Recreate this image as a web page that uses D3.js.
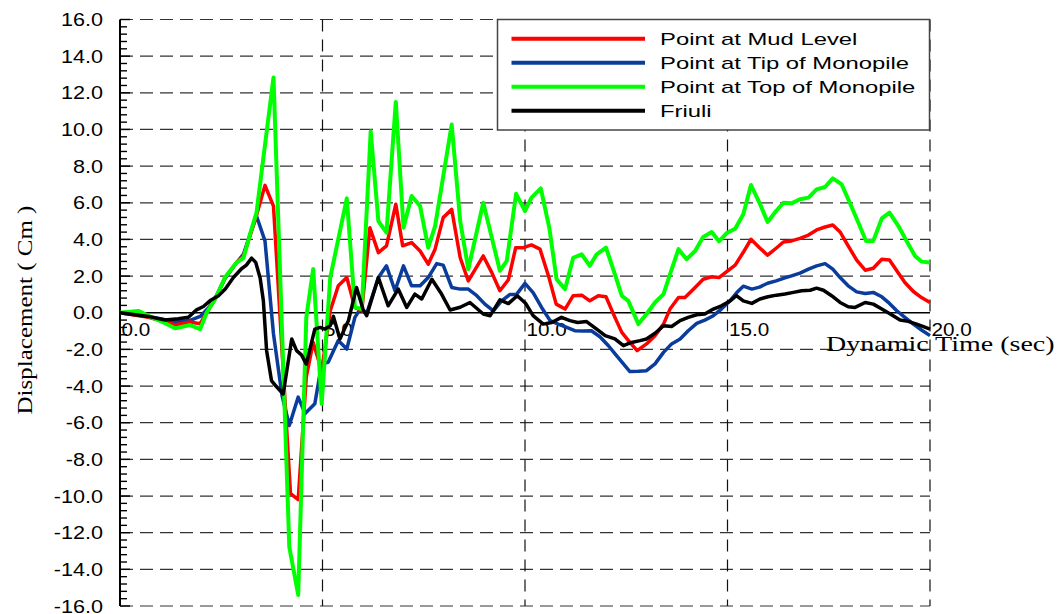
<!DOCTYPE html>
<html>
<head>
<meta charset="utf-8">
<script src="https://cdn.jsdelivr.net/npm/d3@7"></script>
<style>
  body { margin: 0; background: #fff; }
  svg { display: block; }
</style>
</head>
<body>
<svg id="chart" width="1059" height="614"></svg>
<script>
// [time (sec), displacement (cm)]
const mudLevel = [[0,0],[0.7,-0.25],[1.05,-0.45],[1.36,-0.67],[1.73,-0.5],[1.98,-0.6],[2.14,0.0],[2.35,0.75],[2.59,1.9],[2.88,2.74],[3.05,3.1],[3.37,5.3],[3.58,6.95],[3.79,5.82],[4.21,-9.87],[4.40,-10.2],[4.6,-3.5],[4.77,-1.62],[4.98,-3.16],[5.19,0.1],[5.39,1.47],[5.6,1.92],[5.8,0.29],[5.97,0.1],[6.17,4.64],[6.38,3.28],[6.58,3.65],[6.81,5.92],[6.98,3.65],[7.2,3.83],[7.41,3.37],[7.61,2.65],[7.78,3.47],[7.98,5.19],[8.19,5.64],[8.4,3.0],[8.6,1.74],[8.97,3.1],[9.18,2.19],[9.38,1.2],[9.59,1.8],[9.77,3.55],[9.96,3.55],[10.16,3.7],[10.37,3.47],[10.58,2.01],[10.77,0.47],[10.99,0.2],[11.19,0.93],[11.4,0.96],[11.6,0.65],[11.81,0.93],[12.0,0.87],[12.22,-0.25],[12.39,-1.07],[12.59,-1.62],[12.77,-2.07],[13.0,-1.7],[13.21,-1.25],[13.42,-0.62],[13.58,0.2],[13.79,0.83],[13.95,0.83],[14.2,1.38],[14.4,1.83],[14.61,1.96],[14.79,1.92],[14.98,2.25],[15.19,2.6],[15.39,3.3],[15.58,4.01],[15.79,3.55],[15.99,3.14],[16.2,3.52],[16.38,3.86],[16.58,3.92],[16.79,4.06],[17.0,4.24],[17.2,4.52],[17.41,4.68],[17.6,4.79],[17.78,4.41],[17.98,3.65],[18.19,2.87],[18.4,2.32],[18.6,2.43],[18.81,2.92],[19.0,2.88],[19.18,2.29],[19.38,1.65],[19.59,1.16],[19.79,0.83],[20.0,0.56]];

const tipMonopile = [[0,0],[0.7,-0.2],[1.05,-0.35],[1.36,-0.5],[1.73,-0.42],[1.98,-0.2],[2.2,0.3],[2.4,1.0],[2.59,1.85],[2.88,2.74],[3.05,3.2],[3.2,4.2],[3.37,5.28],[3.58,3.92],[3.79,-1.16],[4.0,-4.5],[4.18,-6.15],[4.40,-4.6],[4.57,-5.5],[4.81,-4.97],[4.98,-2.79],[5.14,-2.7],[5.39,-1.52],[5.6,-1.98],[5.8,-0.25],[5.93,0.2],[6.09,-0.05],[6.38,1.92],[6.58,2.56],[6.79,1.2],[7.0,2.56],[7.2,1.47],[7.41,1.47],[7.61,1.92],[7.82,2.68],[7.98,2.6],[8.19,1.38],[8.4,1.29],[8.6,1.29],[8.81,0.93],[9.01,0.47],[9.22,0.1],[9.42,0.65],[9.63,1.0],[9.79,1.0],[10.0,1.6],[10.2,1.1],[10.41,0.29],[10.62,-0.43],[10.82,-0.62],[11.03,-0.8],[11.23,-0.98],[11.44,-1.0],[11.64,-0.98],[11.85,-1.31],[12.06,-1.8],[12.26,-2.34],[12.43,-2.79],[12.59,-3.21],[12.8,-3.19],[13.0,-3.16],[13.21,-2.79],[13.42,-2.16],[13.62,-1.7],[13.83,-1.43],[14.03,-0.98],[14.24,-0.58],[14.44,-0.4],[14.65,-0.16],[14.85,0.2],[15.06,0.65],[15.23,1.1],[15.39,1.45],[15.6,1.29],[15.79,1.4],[15.99,1.61],[16.2,1.74],[16.38,1.88],[16.58,2.01],[16.79,2.16],[17.0,2.38],[17.2,2.56],[17.41,2.68],[17.6,2.38],[17.78,1.92],[17.98,1.47],[18.19,1.14],[18.4,1.05],[18.6,1.11],[18.81,0.87],[19.0,0.51],[19.18,0.11],[19.38,-0.25],[19.59,-0.62],[19.79,-0.94],[20.0,-1.25]];

const topMonopile = [[0,0],[0.45,0.1],[0.78,-0.25],[1.05,-0.5],[1.36,-0.85],[1.73,-0.67],[1.98,-0.89],[2.14,0.0],[2.35,0.75],[2.59,1.92],[2.88,2.74],[3.05,3.0],[3.2,4.2],[3.37,5.46],[3.79,12.84],[4.18,-12.77],[4.40,-15.4],[4.6,-0.25],[4.77,2.38],[4.98,-4.97],[5.19,1.9],[5.6,6.24],[5.8,0.3],[5.97,0.2],[6.19,9.9],[6.38,5.0],[6.58,4.37],[6.81,11.5],[7.0,4.64],[7.2,6.37],[7.41,5.82],[7.61,3.55],[7.78,4.73],[8.19,10.27],[8.4,5.0],[8.6,2.38],[8.97,6.0],[9.18,4.1],[9.38,2.29],[9.55,2.83],[9.78,6.49],[10.0,5.55],[10.16,6.28],[10.39,6.79],[10.6,4.64],[10.78,1.83],[10.99,1.29],[11.19,3.0],[11.4,3.19],[11.6,2.56],[11.77,3.19],[12.0,3.55],[12.22,2.1],[12.39,0.93],[12.55,0.65],[12.8,-0.62],[13.0,-0.07],[13.21,0.56],[13.42,1.02],[13.58,2.1],[13.79,3.47],[13.99,2.92],[14.2,3.37],[14.4,4.14],[14.61,4.4],[14.79,3.9],[14.98,4.35],[15.19,4.58],[15.39,5.37],[15.58,6.97],[15.79,6.0],[15.99,4.95],[16.2,5.55],[16.38,6.0],[16.58,5.97],[16.79,6.19],[17.0,6.28],[17.2,6.73],[17.41,6.86],[17.6,7.33],[17.82,7.0],[18.02,6.0],[18.23,4.92],[18.42,3.92],[18.6,3.92],[18.81,5.15],[19.0,5.46],[19.22,4.73],[19.42,3.92],[19.63,3.1],[19.79,2.79],[20.0,2.74]];

const friuli = [[0,0],[0.7,-0.2],[1.11,-0.4],[1.44,-0.33],[1.69,-0.25],[1.89,0.16],[2.06,0.34],[2.22,0.65],[2.43,0.93],[2.6,1.3],[2.8,1.92],[3.0,2.4],[3.12,2.6],[3.25,2.98],[3.35,2.75],[3.46,1.9],[3.54,0.65],[3.62,-2.07],[3.74,-3.7],[3.85,-4.0],[4.03,-4.43],[4.24,-1.43],[4.36,-2.07],[4.48,-2.3],[4.6,-2.8],[4.81,-0.89],[4.94,-0.8],[5.06,-0.89],[5.19,-0.71],[5.27,-0.2],[5.43,-1.43],[5.64,-0.43],[5.84,1.38],[6.0,0.2],[6.09,-0.16],[6.38,1.92],[6.62,0.38],[6.87,1.29],[7.08,0.29],[7.28,1.02],[7.45,0.75],[7.7,1.83],[7.94,1.02],[8.15,0.15],[8.4,0.3],[8.64,0.56],[8.97,-0.07],[9.14,-0.16],[9.38,0.7],[9.59,0.5],[9.81,0.93],[10.02,0.5],[10.2,-0.16],[10.45,-0.62],[10.66,-0.53],[10.9,-0.25],[11.11,-0.43],[11.3,-0.53],[11.52,-0.48],[11.77,-0.89],[11.98,-1.25],[12.22,-1.43],[12.43,-1.8],[12.63,-1.62],[12.84,-1.52],[13.0,-1.43],[13.21,-1.12],[13.42,-0.71],[13.62,-0.75],[13.83,-0.43],[14.03,-0.25],[14.24,-0.11],[14.44,-0.07],[14.65,0.2],[14.85,0.38],[15.05,0.62],[15.22,0.93],[15.39,0.65],[15.6,0.51],[15.8,0.75],[16.0,0.87],[16.21,0.96],[16.42,1.02],[16.63,1.11],[16.83,1.2],[17.04,1.23],[17.2,1.34],[17.37,1.23],[17.57,0.93],[17.78,0.56],[17.98,0.33],[18.15,0.29],[18.4,0.56],[18.6,0.47],[18.81,0.2],[19.05,-0.11],[19.26,-0.4],[19.46,-0.47],[19.67,-0.62],[19.84,-0.76],[20.0,-0.89]];

const legendLabels = ["Point at Mud Level", "Point at Tip of Monopile", "Point at Top of Monopile", "Friuli"];
const xTicks = [0, 5, 10, 15, 20];
const yTicks = d3.range(-16, 16.01, 2);

const svg = d3.select("#chart");

const x = d3.scaleLinear().domain([0, 20]).range([120, 930]);
const y = d3.scaleLinear().domain([-16, 16]).range([606, 19.5]);

// stretched text helper, the original fonts look wide
function label(g, tx, ty, txt, sx, anchor) {
    return g.append("text")
        .attr("transform", `translate(${tx},${ty}) scale(${sx},1)`)
        .attr("text-anchor", anchor)
        .text(txt);
}

// horizontal dashed grid
svg.append("g").selectAll("line")
    .data(yTicks.filter(d => d !== 0))
    .enter().append("line")
    .attr("x1", x(0)).attr("x2", x(20))
    .attr("y1", d => y(d)).attr("y2", d => y(d))
    .attr("stroke", "#333").attr("stroke-width", 1.2)
    .attr("stroke-dasharray", "13,7");

// vertical dashed grid
svg.append("g").selectAll("line")
    .data(xTicks.filter(d => d !== 0))
    .enter().append("line")
    .attr("x1", d => x(d)).attr("x2", d => x(d))
    .attr("y1", y(16)).attr("y2", y(-16))
    .attr("stroke", "#111").attr("stroke-width", 1.2)
    .attr("stroke-dasharray", "12,8");

// zero line
svg.append("line")
    .attr("x1", x(0)).attr("x2", x(20))
    .attr("y1", y(0)).attr("y2", y(0))
    .attr("stroke", "#000").attr("stroke-width", 1.5);

// y axis with inward ticks
const yAxis = svg.append("g");
yAxis.append("line")
    .attr("x1", x(0)).attr("x2", x(0))
    .attr("y1", y(16)).attr("y2", y(-16))
    .attr("stroke", "#000").attr("stroke-width", 2);
yAxis.selectAll(".minor")
    .data(d3.range(-16, 16.01, 0.4))
    .enter().append("line")
    .attr("x1", x(0)).attr("x2", d => x(0) + (Math.abs(d / 2 - Math.round(d / 2)) < 0.01 ? 10 : 7))
    .attr("y1", d => y(d)).attr("y2", d => y(d))
    .attr("stroke", "#000").attr("stroke-width", 1.4);

const yLab = svg.append("g")
    .style("font-family", "'Liberation Sans', Arial, sans-serif")
    .style("font-size", "18px").attr("fill", "#000");
yTicks.forEach(d => {
    label(yLab, 103, y(d) + 6.5, d.toFixed(1), 1.2, "end");
});

const xLab = svg.append("g")
    .style("font-family", "'Liberation Sans', Arial, sans-serif")
    .style("font-size", "18px").attr("fill", "#000");
xTicks.forEach(d => {
    label(xLab, x(d) + 1.5, 335.5, d.toFixed(1), 1.15, "start");
});

// axis titles
const titles = svg.append("g")
    .style("font-family", "'Liberation Serif', 'Times New Roman', serif")
    .style("font-size", "20px").attr("fill", "#000")
    .style("white-space", "pre");
label(titles, 826, 351, "Dynamic Time  (sec)", 1.4, "start");
titles.append("text")
    .attr("transform", "translate(32,310) rotate(-90) scale(1.25,1)")
    .attr("text-anchor", "middle")
    .text("Displacement ( Cm )");

// series
const series = [
    {data: tipMonopile, color: "#0a3c9c", w: 3.5, name: legendLabels[1]},
    {data: mudLevel, color: "#ff0000", w: 3.5, name: legendLabels[0]},
    {data: topMonopile, color: "#00ff00", w: 4, name: legendLabels[2]},
    {data: friuli, color: "#000000", w: 3.5, name: legendLabels[3]}
];

const line = d3.line()
    .x(d => x(d[0]))
    .y(d => y(d[1]));

svg.append("g").selectAll("path")
    .data(series)
    .enter().append("path")
    .attr("d", d => line(d.data))
    .attr("fill", "none")
    .attr("stroke", d => d.color)
    .attr("stroke-width", d => d.w)
    .attr("stroke-linejoin", "round");

// legend
const legend = svg.append("g");
legend.append("rect")
    .attr("x", 497.5).attr("y", 19.5)
    .attr("width", 432).attr("height", 110.5)
    .attr("fill", "#fff").attr("stroke", "#444").attr("stroke-width", 1.5);

const legendOrder = [series[1], series[0], series[2], series[3]];
const rowY = d3.scalePoint().domain(legendLabels).range([38.7, 110.7]);
legendOrder.forEach(s => {
    const ly = rowY(s.name);
    legend.append("line")
        .attr("x1", 511.5).attr("x2", 645)
        .attr("y1", ly).attr("y2", ly)
        .attr("stroke", s.color).attr("stroke-width", 4);
    label(legend, 660, ly + 6, s.name, 1.49, "start")
        .style("font-family", "'Liberation Sans', Arial, sans-serif")
        .style("font-size", "16px");
});
</script>
</body>
</html>
